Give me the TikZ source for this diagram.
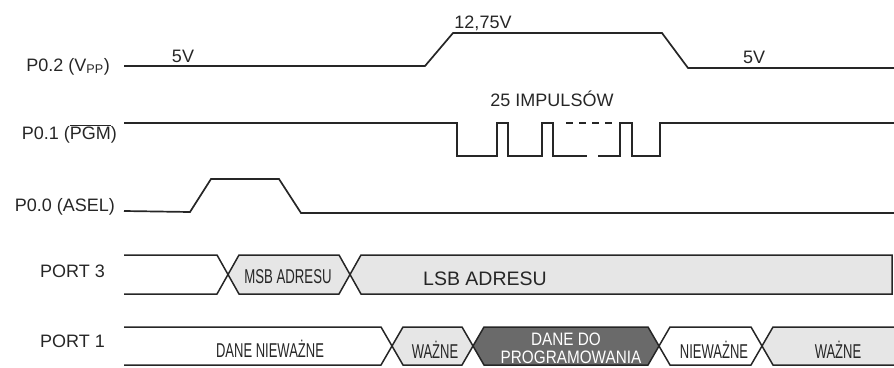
\documentclass[tikz,border=0pt]{standalone}
\usepackage{fontspec}
\usepackage{graphicx}
\setmainfont{Liberation Sans}
\definecolor{ink}{HTML}{262626}
\definecolor{lightdot}{HTML}{E6E6E6}
\definecolor{darkdot}{HTML}{6A6A6A}
\newcommand{\cond}[2]{\scalebox{#1}[1]{#2}}
\begin{document}
\begin{tikzpicture}[x=1pt,y=-1pt,
  sig/.style={line width=1.7pt, draw=ink, line join=miter},
  bus/.style={line width=1.5pt, draw=ink, line join=miter},
  lightzone/.style={bus, fill=lightdot},
  darkzone/.style={bus, fill=darkdot},
  lbl/.style={font=\fontsize{18}{20}\selectfont, text=ink, inner sep=0pt},
  blbl/.style={font=\fontsize{20}{22}\selectfont, text=ink, inner sep=0pt},
  wlbl/.style={font=\fontsize{18}{20}\selectfont, text=white, inner sep=0pt}]
\useasboundingbox (0,0) rectangle (894,367);

% signal labels
\node[lbl, anchor=base east] (lvpp) at (110,71) {P0.2 (V\textsubscript{PP})};
\node[lbl, anchor=base east] (lpgm) at (117,139) {P0.1 ($\overline{\mbox{PGM}}$)};
\node[lbl, anchor=base east] (lasel) at (115,211) {P0.0 (ASEL)};
\node[lbl, anchor=base east] (lp3) at (105,277) {PORT 3};
\node[lbl, anchor=base east] (lp1) at (105,347) {PORT 1};

% P0.2 (Vpp)
\draw[sig] (124,66) -- (425,66) -- (453,33) -- (662,33) -- (688,68) -- (894,68);
\node[lbl, anchor=base] (v5a) at (183,62) {5V};
\node[lbl, anchor=base] (v12) at (483,28) {12,75V};
\node[lbl, anchor=base] (v5b) at (754,63) {5V};

% P0.1 (PGM)
\draw[sig] (124,123) -- (457,123) -- (457,156) -- (497,156) -- (497,123) -- (508,123)
  -- (508,156) -- (542,156) -- (542,123) -- (553,123) -- (553,156) -- (587,156);
\draw[sig] (598,156) -- (620,156) -- (620,123) -- (632,123) -- (632,156) -- (660,156)
  -- (660,123) -- (894,123);
\draw[sig, dash pattern=on 7pt off 6pt] (566,123) -- (613,123);
\node[lbl, anchor=base] (imp) at (552,106) {25 IMPULSÓW};

% P0.0 (ASEL)
\draw[sig] (124,211) -- (190,212) -- (211,179) -- (279,179) -- (301,213) -- (894,213);

% PORT 3
\draw[bus] (124,255) -- (217,255) -- (228,274.5) -- (217,294) -- (124,294);
\draw[lightzone] (228,274.5) -- (239,255) -- (339,255) -- (350,274.5) -- (339,294) -- (239,294) -- cycle;
\draw[lightzone] (350,274.5) -- (361,255) -- (892,255) -- (892,294) -- (361,294) -- cycle;
\node[blbl, anchor=base] (msb) at (288,283) {\cond{0.66}{MSB ADRESU}};
\node[lbl, anchor=base, font=\fontsize{19.5}{22}\selectfont] (lsb) at (485,285) {LSB ADRESU};

% PORT 1
\draw[bus] (124,327) -- (381,327) -- (392,346) -- (381,365) -- (124,365);
\draw[lightzone] (392,346) -- (403,327) -- (462,327) -- (473,346) -- (462,365) -- (403,365) -- cycle;
\draw[darkzone] (473,346) -- (484,327) -- (648,327) -- (659,346) -- (648,365) -- (484,365) -- cycle;
\draw[bus] (659,346) -- (670,327) -- (751,327) -- (762,346) -- (751,365) -- (670,365) -- cycle;
\draw[lightzone] (894,327) -- (773,327) -- (762,346) -- (773,365) -- (894,365);
\node[blbl, anchor=base] (dn) at (270,357) {\cond{0.65}{DANE NIEWAŻNE}};
\node[blbl, anchor=base] (w1) at (435,358) {\cond{0.65}{WAŻNE}};
\node[wlbl, anchor=base] (dd1) at (566,345) {\cond{0.85}{DANE DO}};
\node[wlbl, anchor=base] (dd2) at (571,363) {\cond{0.85}{PROGRAMOWANIA}};
\node[blbl, anchor=base] (nw) at (714,358) {\cond{0.65}{NIEWAŻNE}};
\node[blbl, anchor=base] (w2) at (838,358) {\cond{0.65}{WAŻNE}};
\end{tikzpicture}
\end{document}
